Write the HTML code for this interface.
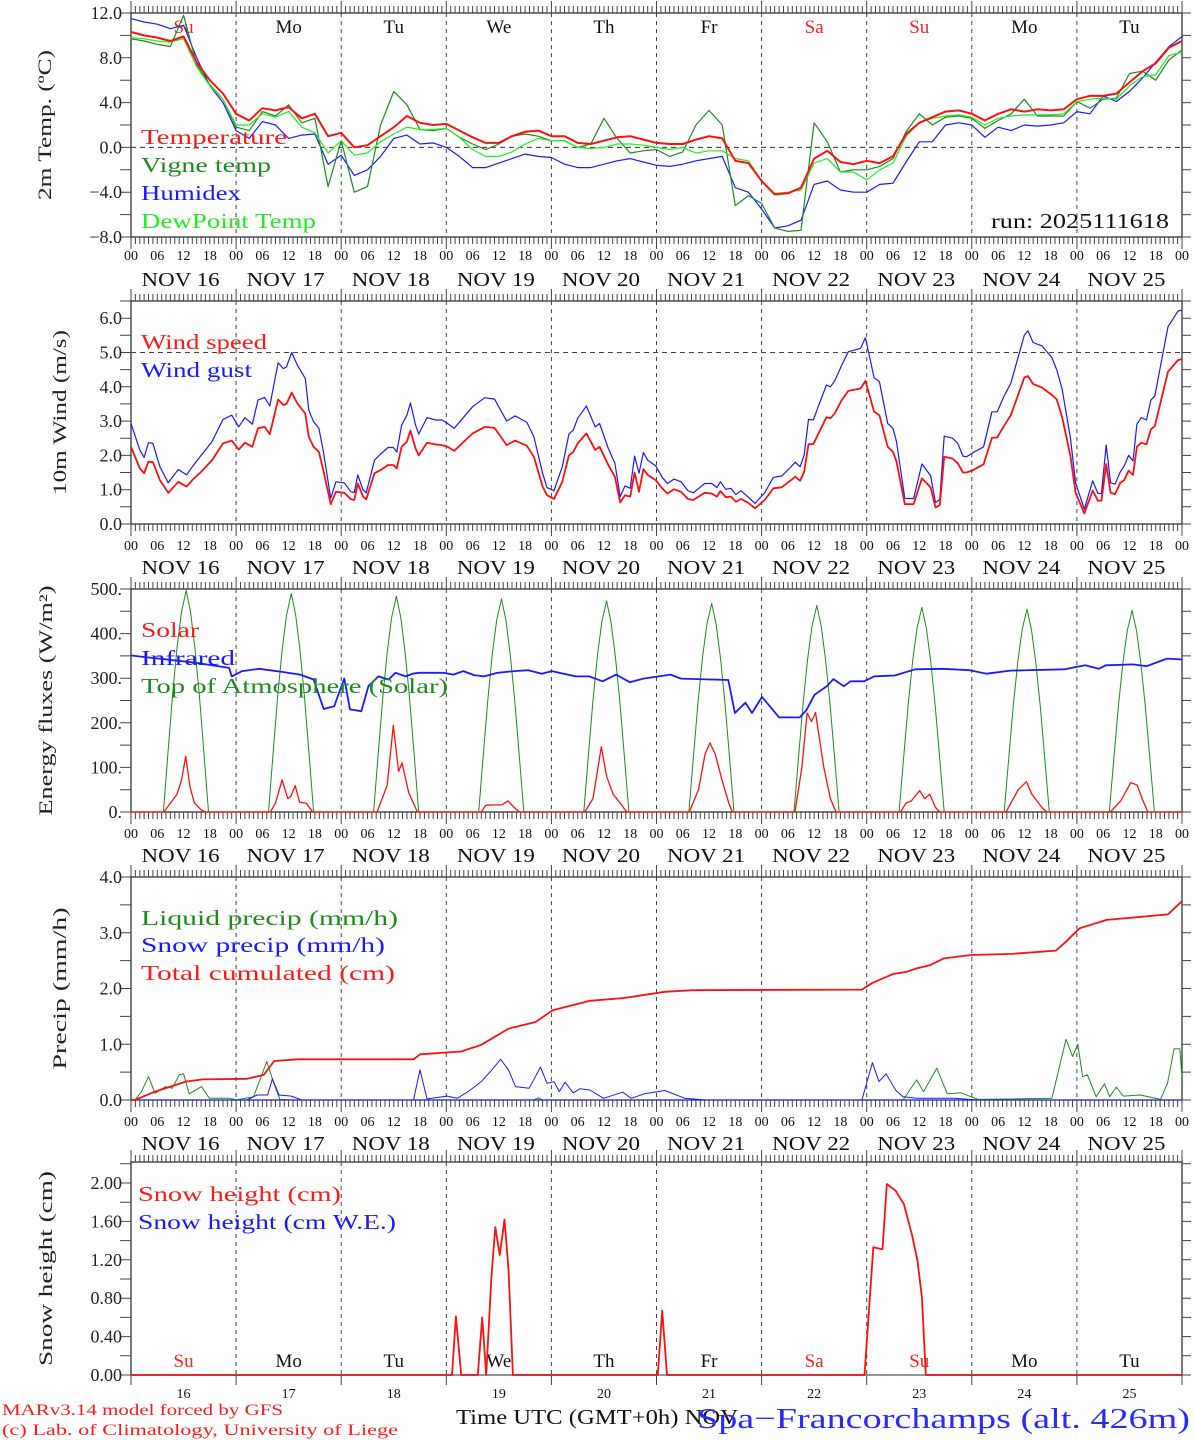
<!DOCTYPE html>
<html><head><meta charset="utf-8"><title>MAR forecast Spa-Francorchamps</title>
<style>
html,body{margin:0;padding:0;background:#fff;}
svg{display:block;font-family:"Liberation Serif",serif;}
</style></head>
<body>
<svg id="chart" width="1194" height="1440" viewBox="0 0 1194 1440" xmlns="http://www.w3.org/2000/svg"></svg>
<script>
// ---------- DATA ----------
const dayNames = ['Su','Mo','Tu','We','Th','Fr','Sa','Su','Mo','Tu'];
const dayColors = ['#ff2020','#111','#111','#111','#111','#111','#ff2020','#ff2020','#111','#111'];
const dayNumbers = ['16','17','18','19','20','21','22','23','24','25'];
const hourLabels = ['00','06','12','18'];

const temperature = [10.3,10.0,9.8,9.5,9.9,7.6,6.0,4.8,3.0, 2.4,3.5,3.3,3.6,2.6,3.0,1.0,1.3, 0.0,0.2,1.0,1.8,2.8,2.2,2.0,2.1, 1.5,0.9,0.4,0.4,1.0,1.4,1.5,1.0, 1.0,0.4,0.3,0.6,0.9,1.0,0.7,0.4, 0.3,0.3,0.7,1.0,0.8,-1.2,-1.4,-3.0, -4.2,-4.1,-3.6,-1.0,-0.3,-1.3,-1.5,-1.2, -1.4,-0.8,1.2,2.2,2.7,3.2,3.3,3.0, 2.4,3.0,3.4,3.2,3.4,3.3,3.4,4.3, 4.6,4.6,4.8,5.8,6.8,7.5,8.9,9.5];
const vigneTemp = [9.7,9.5,9.2,9.0,11.8,7.4,5.6,4.3,1.8, 1.5,3.2,2.8,3.8,2.2,2.6,-3.5,0.6, -4.0,-3.5,2.0,5.0,3.8,1.6,1.5,1.7, 0.9,0.3,-0.2,0.3,1.0,1.2,1.0,0.6, 0.6,0.0,0.3,2.6,0.8,-0.5,-0.3,-0.2, -0.8,-0.4,2.0,3.3,2.0,-5.2,-4.3,-5.0, -7.2,-7.5,-7.4,2.2,0.5,-2.2,-2.0,-2.0, -1.7,-1.0,1.4,3.0,2.0,2.7,2.8,2.6, 1.7,2.4,3.0,4.3,2.8,2.8,2.8,4.1, 3.5,4.3,4.4,6.6,6.8,6.0,7.8,8.7];
const humidex = [11.5,11.2,11.0,10.6,10.9,8.0,5.5,4.0,1.5, 0.8,2.3,2.0,0.8,1.1,1.2,-1.5,-0.7, -2.5,-2.0,-0.8,0.8,1.1,0.3,0.4,0.0, -0.8,-1.8,-1.8,-1.4,-1.0,-0.6,-0.8,-0.9, -1.5,-1.8,-1.8,-1.5,-1.2,-1.0,-1.3,-1.6, -1.7,-1.5,-1.2,-1.0,-0.8,-3.6,-4.0,-5.5, -7.2,-7.0,-6.5,-3.3,-3.0,-3.8,-4.0,-4.0, -3.3,-3.2,-1.3,0.5,0.5,2.0,2.2,2.0, 0.9,1.8,1.5,2.0,1.9,2.0,2.2,3.2, 3.0,4.6,4.1,5.0,6.2,7.6,9.0,9.9];
const dewPoint = [9.8,9.7,9.5,9.4,9.7,7.2,5.5,4.3,2.0, 2.0,3.0,2.7,3.2,1.8,1.3,-0.5,0.6, -0.7,-0.5,0.5,1.2,1.8,1.6,1.6,1.7, 0.9,-0.2,-0.8,-0.8,-0.4,0.3,0.8,0.6, 0.6,0.0,-0.1,0.0,0.3,0.3,0.2,0.0, -0.2,0.0,-0.5,-0.3,-0.3,-1.0,-1.2,-3.0, -4.1,-4.0,-3.8,-1.4,-1.0,-2.2,-2.2,-2.9, -2.0,-1.4,1.0,2.2,2.6,2.8,2.9,2.7, 2.0,2.6,2.8,2.9,2.9,2.9,3.0,4.1, 4.3,4.4,4.3,5.5,6.3,6.5,8.2,8.5];
const tempHours = []; for (let h = 0; h <= 240; h += 3) tempHours.push(h);

const windHours = [0,2,3,4,5,6.6,8.5,10.8,12.7,14,16,18.5,21,23,24.6,26,27.7,29,30.5,31.7,33.6,34.8,35.5,36.7,38,39.8,40.6,41.7,42.9,44,45.6,46.8,48.7,50.2,51,51.8,53,53.7,55.6,57,58.7,59.9,60.7,61.8,63,63.8,65,65.7,67.6,69.6,71,72.3,73.8,78,80.8,83,85.8,87.7,90.4,92,94,95,96.6,98.5,100,101,102,104,106,107,109,110.5,111.7,112.8,114,115,116,117,118,
 119.8,121.3,122.5,124,125.6,127.2,128.4,131,132.6,133.8,134.6,135.8,137,138.1,139.3,140.8,142.5,144.7,146.7,148.6,150.2,151.7,152.8,153.7,154.7,155.8,157.2,158.8,159.7,160.7,162.3,163.8,166.6,167.7,169.7,170.9,172.8,174,174.8,176.7,178.7,180.6,182.6,183.7,184.7,185.7,187.6,188.8,190,190.8,192.3,194.7,196.6,197.8,199.3,200.9,204,204.8,206,208,210.3,211.4,212.6,214.5,215.7,217.7,219.6,220.8,221.6,222.7,223.7,224.7,225.9,226.8,227.8,228.8,229.7,230.7,231.9,232.9,233.8,236.8,239.1,239.9];
const windSpeed = [2.25,1.62,1.48,1.82,1.8,1.28,0.91,1.23,1.09,1.28,1.52,1.86,2.35,2.43,2.17,2.37,2.25,2.79,2.83,2.62,3.63,3.47,3.5,3.83,3.51,3.22,2.54,2.25,2.1,1.52,0.58,0.94,0.91,0.72,0.7,1.18,0.8,0.72,1.48,1.57,1.72,1.72,1.62,2.25,2.4,2.72,2.2,2.0,2.37,2.32,2.3,2.25,2.13,2.64,2.83,2.8,2.3,2.43,2.28,1.96,1.09,0.84,0.73,1.23,2.0,2.1,2.35,2.64,2.16,2.25,1.72,1.38,0.63,0.84,0.8,1.5,0.94,1.6,1.43,
 1.28,1.04,0.89,1.01,0.94,0.73,0.7,0.91,0.89,0.8,0.96,0.78,0.8,0.65,0.73,0.63,0.46,0.7,1.04,1.07,1.23,1.38,1.26,1.52,2.33,2.33,2.69,3.11,3.08,3.22,3.61,3.88,3.95,4.17,3.27,3.17,2.25,2.1,1.82,0.58,0.58,1.33,1.07,0.48,0.55,1.96,1.91,1.77,1.5,1.5,1.57,1.74,2.51,2.52,2.85,3.17,4.27,4.31,4.08,3.98,3.76,3.63,3.13,2.0,0.91,0.31,0.97,0.68,0.68,1.75,0.91,0.87,1.2,1.28,1.55,1.43,2.25,2.37,2.32,2.76,2.85,4.44,4.78,4.8];
const windGust = [2.93,2.16,1.94,2.37,2.35,1.67,1.2,1.59,1.43,1.67,2.0,2.4,3.05,3.17,2.83,3.1,2.91,3.61,3.69,3.44,4.7,4.53,4.58,5.0,4.63,4.24,3.32,2.98,2.79,2.06,0.75,1.23,1.2,0.94,0.92,1.43,0.99,0.91,1.86,2.04,2.23,2.23,2.1,2.88,3.17,3.53,2.88,2.62,3.1,3.03,3.03,2.93,2.79,3.42,3.68,3.64,3.0,3.15,2.96,2.54,1.48,1.06,0.97,1.67,2.62,2.74,3.08,3.44,2.83,2.93,2.2,1.77,0.8,1.11,1.04,1.98,1.48,2.08,1.86,
 1.7,1.36,1.18,1.31,1.23,0.97,0.91,1.18,1.18,1.06,1.23,1.01,1.04,0.86,0.97,0.8,0.6,0.91,1.36,1.4,1.6,1.8,1.67,2.0,3.05,3.03,3.51,4.05,4.0,4.17,4.63,5.02,5.12,5.43,4.26,4.15,2.93,2.79,2.4,0.75,0.74,1.75,1.41,0.62,0.72,2.56,2.5,2.35,1.98,1.96,2.08,2.25,3.27,3.27,3.71,4.1,5.5,5.63,5.29,5.19,4.85,4.49,3.95,2.54,1.2,0.43,1.26,0.89,0.89,2.3,1.2,1.16,1.52,1.69,2.0,1.84,2.91,3.1,3.03,3.61,3.73,5.75,6.21,6.23];

const solarHours = [0,7.5,9,10.5,11.5,12.5,13.5,14.5,16,17, 31.8,33,34.5,35.8,36.5,37.5,38.5,40,41.5, 56.2,58.5,59.9,61.1,61.9,63.4,65.4, 80,81,82.8,84.7,86.1,87.5,88.7, 103.6,105.5,107.4,108.6,110.1,111.7,113.2, 127.5,129.6,131.1,132.2,133.4,135,136.5,137.3, 151.6,153.2,154.4,155.4,156.3,158.2,159.7,161, 175.7,177,178.2,180.1,181.2,182.4,183.7,184.7, 199.8,201.5,202.6,204.5,205.7,208,209.1, 223.6,226,228.3,229.8,230.9,232.2,240];
const solarValues = [0,0,20,40,70,125,55,20,5,0, 0,20,72,30,35,59,22,20,0, 0,60,194,91,110,44,0, 0,15,16,16,25,10,0, 0,30,146,80,40,20,0, 0,50,130,155,130,70,20,0, 0,100,222,203,223,100,30,0, 0,20,25,48,30,40,10,0, 0,30,50,68,40,10,0, 0,25,66,60,30,0,0];
const toaPeaks = [497,490,484,478,473,468,463,459,455,452];
const toaHourOfDay = [7.4,8.5,9.5,10.5,11.5,12.6,13.6,14.6,15.6,16.6,17.7];
const toaFraction = [0,0.28,0.53,0.74,0.9,1,0.9,0.74,0.53,0.28,0];
const irHours = [0,14.6,22.4,23,25.4,29.3,34.7,38.6,41.7,44,46.4,47.5,48.7,50,52.6,54.2,56.5,58.8,60.4,62.7,64.3,65.8,71.3,73.6,75.9,78.3,80.6,83.7,87.6,90.7,93.8,96.1,101.5,104.6,107.7,110.8,113.9,117,123.2,125.6,132.5,136.4,137.9,140.3,141.8,144.1,148,152.7,154.2,156.1,158.9,160.4,162.8,164.3,167.4,169.7,174.4,179.1,185.3,191.5,195.4,200.8,213.2,217.9,221,222.6,228.8,231.9,236.6,240];
const irValues = [351,335,323,304,316,321,314,308,297,231,237,267,299,230,226,282,304,297,312,304,310,312,312,308,316,307,304,312,316,318,310,316,304,304,293,308,291,299,308,299,297,296,222,245,222,258,212,212,228,263,282,298,282,293,293,304,306,320,321,318,310,317,320,329,321,329,331,327,344,342];

const totalHours = [0,0.9,5.5,12.5,16.4,26.5,30.3,32.7,38.1,64.5,66,75.4,80,86.2,92.4,96.3,104.8,112.6,121.9,128.1,166.9,169.3,174,177.1,179.4,182.5,185.6,191.8,201.1,211.2,213.5,216.6,222.8,236.8,239.9];
const totalValues = [0,0,0.15,0.33,0.37,0.38,0.45,0.7,0.73,0.73,0.82,0.87,0.99,1.28,1.40,1.61,1.78,1.83,1.94,1.97,1.98,2.1,2.26,2.3,2.36,2.42,2.54,2.6,2.62,2.68,2.84,3.08,3.23,3.33,3.56];
const liquidHours = [0,0.9,2.4,4,5.5,7.9,9.4,11,12,13.3,16.1,17.9,22.6,24,28,31,32.6,34,36.4,92,93,94,176.3,179.4,181,184,186.4,189.5,193.4,210.3,213.5,215,216.2,217.3,218.4,220.4,222.3,223.5,225,226.6,230.5,235.1,236.7,238.2,239.5,240];
const liquidValues = [0,0,0.15,0.42,0.12,0.24,0.21,0.45,0.47,0.11,0.24,0.03,0.03,0,0.06,0.69,0.3,0.01,0,0,0.04,0,0,0.36,0.15,0.57,0.11,0.13,0.01,0.03,1.09,0.78,1.0,0.42,0.45,0.06,0.29,0.06,0.23,0.07,0.09,0.01,0.3,0.92,0.92,0.42];
const snowHours = [0,26.5,28.8,31.2,32.3,33.8,36.6,39,64.5,66,67.6,72.2,74.5,77,80,82.4,84.4,86.2,87.8,90.9,93.5,95,96.6,97.8,99.1,101,102.5,104.8,107.9,112.3,114.2,117.2,121.9,126.5,131.2,166.9,169.3,170.8,172.4,174.7,176.3,179.4,187.9,193.4,240];
const snowValues = [0,0,0.09,0.09,0.38,0.09,0.07,0,0,0.54,0.02,0.07,0.03,0.15,0.33,0.54,0.73,0.54,0.24,0.21,0.59,0.3,0.33,0.15,0.32,0.13,0.2,0.18,0.03,0.14,0.03,0.11,0.17,0.03,0,0,0.67,0.33,0.47,0.17,0.06,0.03,0.03,0,0];

const heightHours = [0,73.3,74.2,75.4,79.2,80.2,81.1,82.3,83.2,84.2,85.3,86.2,87.2,120.3,121.3,122.4,167.5,169.5,171.6,172.6,174.6,176.5,178.4,179.6,180.6,181.5,240];
const heightValues = [0,0,0.61,0,0,0.6,0,1.02,1.54,1.25,1.62,1.1,0,0,0.67,0,0,1.33,1.31,1.99,1.92,1.78,1.45,1.19,0.81,0,0];
const heightWE = [0,0];
const heightWEHours = [0,240];

// ---------- DRAWING ----------
const NS = 'http://www.w3.org/2000/svg';
const svg = document.getElementById('chart');
const X0 = 131, X1 = 1182;
function xs(h){ return X0 + h * (X1 - X0) / 240; }
function mk(tag, attrs, parent){
  const e = document.createElementNS(NS, tag);
  for (const k in attrs) e.setAttribute(k, attrs[k]);
  (parent || svg).appendChild(e);
  return e;
}
function txt(s, attrs, parent){
  const e = mk('text', attrs, parent);
  e.textContent = s;
  return e;
}

const panels = [
 {key:'temp', top:13, bot:237, min:-8, max:12, step:2, lstep:4, fmt:v=>(v<0?'\u2212'+Math.abs(v).toFixed(1):v.toFixed(1)), title:'2m Temp. (\u00baC)', tx:45, tlen:150, hl:260, dl:286},
 {key:'wind', top:301, bot:524, min:0, max:6.5, step:0.5, lstep:1, lmax:6, fmt:v=>v.toFixed(1), title:'10m Wind (m/s)', tx:60, tlen:165, hl:550, dl:574},
 {key:'flux', top:589, bot:812, min:0, max:500, step:50, lstep:100, fmt:v=>v.toFixed(0)+'.', title:'Energy fluxes (W/m\u00b2)', tx:46, tlen:230, hl:838, dl:862},
 {key:'precip', top:877, bot:1100, min:0, max:4, step:0.5, lstep:1, fmt:v=>v.toFixed(1), title:'Precip (mm/h)', tx:60, tlen:162, hl:1126, dl:1150},
 {key:'snow', top:1162, bot:1375, min:0, max:2.21875, step:0.2, lstep:0.4, lmax:2.0, fmt:v=>v.toFixed(2), title:'Snow height (cm)', tx:46, tlen:195}
];
function ys(p, v){ return p.bot - (v - p.min) * (p.bot - p.top) / (p.max - p.min); }

panels.forEach((p, pi) => {
  const g = mk('g', {});
  
  
  // frame
  const fr = mk('rect', {x:X0, y:p.top, width:X1-X0, height:p.bot-p.top, fill:'none', stroke:'#333', 'stroke-width':1.3}, g);
  
  
  // day dividers
  for (let d = 1; d < 10; d++) {
    const l = mk('line', {x1:xs(d*24), x2:xs(d*24), y1:p.top, y2:p.bot, stroke:'#444', 'stroke-width':1, 'stroke-dasharray':'4,4'}, g);
    
    
  }
  // hourly ticks top & bottom
  let tp = '';
  for (let h = 0; h <= 240; h++) {
    const x = xs(h).toFixed(1);
    const big = h % 24 === 0;
    if (pi < 4) {
      tp += `M${x} ${p.top}v${big?-12:-7}M${x} ${p.bot}v${big?12:7}`;
    } else {
      tp += `M${x} ${p.top}v${big?-12:-7}` + (big ? `M${x} ${p.bot}v10` : '');
    }
  }
  const ticks = mk('path', {d:tp, stroke:'#444', 'stroke-width':1, fill:'none'}, g);
  
  
  // y ticks and labels
  let yp = '';
  for (let v = p.min; v <= p.max + 1e-9; v += p.step) {
    const y = ys(p, v).toFixed(1);
    yp += `M${X0} ${y}h-11M${X1} ${y}h9`;
  }
  const yt = mk('path', {d:yp, stroke:'#444', 'stroke-width':1, fill:'none'}, g);
  
  
  const lmax = p.lmax !== undefined ? p.lmax : p.max;
  for (let v = p.min; v <= lmax + 1e-9; v += p.lstep) {
    const vv = Math.round(v*100)/100;
    const t = txt(p.fmt(vv), {x:122, y:ys(p, vv)+6, 'text-anchor':'end', 'font-size':18, fill:'#222'}, g);
    
    
  }
  // y title
  const cy = (p.top + p.bot) / 2;
  const tt = txt(p.title, {x:0, y:0, transform:`translate(${p.tx + 6},${cy}) rotate(-90)`, 'text-anchor':'middle', 'font-size':19, fill:'#222', textLength:p.tlen, lengthAdjust:'spacingAndGlyphs'}, g);
  
  
  // x labels
  if (pi < 4) {
    for (let d = 0; d <= 10; d++) {
      for (let k = 0; k < 4; k++) {
        if (d === 10 && k > 0) break;
        const h = d*24 + k*6;
        const t = txt(hourLabels[k], {x:xs(h), y:p.hl, 'text-anchor':'middle', 'font-size':14, fill:'#111'}, g);
        
        
      }
      if (d < 10) {
        const t = txt('NOV ' + dayNumbers[d], {x:xs(d*24+12)-3, y:p.dl, 'text-anchor':'middle', 'font-size':20, fill:'#111', textLength:78, lengthAdjust:'spacingAndGlyphs'}, g);
        
        
      }
    }
  } else {
    for (let d = 0; d < 10; d++) {
      const t = txt(dayNumbers[d], {x:xs(d*24+12), y:1398, 'text-anchor':'middle', 'font-size':14, fill:'#111'}, g);
      
      
    }
  }
  p.g = g;
});

function line(p, hours, vals, color, width, name){
  let d = '';
  hours.forEach((h, i) => { d += (i ? 'L' : 'M') + xs(h).toFixed(1) + ' ' + ys(p, vals[i]).toFixed(1); });
  const e = mk('path', {d:d, fill:'none', stroke:color, 'stroke-width':width, 'stroke-linejoin':'round'}, p.g);
  
  
  return e;
}
function hline(p, v, color, dash, name){
  const e = mk('line', {x1:X0, x2:X1, y1:ys(p,v), y2:ys(p,v), stroke:color, 'stroke-width':1, 'stroke-dasharray':dash}, p.g);
  
  
}
function legend(p, s, x, y, color, len, name){
  const t = txt(s, {x:x, y:y, 'font-size':21, fill:color, textLength:len, lengthAdjust:'spacingAndGlyphs'}, p.g);
  
  
}

// Panel 1
const P1 = panels[0];
hline(P1, 0, '#333', '5,4', 'zero-line');
dayNames.forEach((n, d) => {
  const t = txt(n, {x:xs(d*24+12), y:33, 'text-anchor':'middle', 'font-size':19, fill:dayColors[d]}, P1.g);
  
  
});
line(P1, tempHours, humidex, '#1a1aff', 1.2, 'humidex-line');
line(P1, tempHours, vigneTemp, '#1f8a1f', 1.2, 'vigne-temp-line');
line(P1, tempHours, dewPoint, '#22ee22', 1.2, 'dewpoint-line');
line(P1, tempHours, temperature, '#ff1010', 2, 'temperature-line');
legend(P1, 'Temperature', 141, 144, '#ff1a1a', 146, 'legend-temperature');
legend(P1, 'Vigne temp', 141, 172, '#1f8a1f', 130, 'legend-vigne-temp');
legend(P1, 'Humidex', 141, 200, '#1a1aff', 100, 'legend-humidex');
legend(P1, 'DewPoint Temp', 141, 228, '#22ee22', 175, 'legend-dewpoint');
legend(P1, 'run: 2025111618', 991, 228, '#111', 178, 'run-label');

// Panel 2
const P2 = panels[1];
hline(P2, 5, '#444', '5,4', 'wind-5-line');
line(P2, windHours, windGust, '#1a1aff', 1.2, 'wind-gust-line');
line(P2, windHours, windSpeed, '#ff1010', 1.8, 'wind-speed-line');
legend(P2, 'Wind speed', 141, 349, '#ff1a1a', 126, 'legend-wind-speed');
legend(P2, 'Wind gust', 141, 377, '#1a1aff', 111, 'legend-wind-gust');

// Panel 3
const P3 = panels[2];
const toaHours = [], toaValues = [];
toaPeaks.forEach((pk, d) => {
  toaHourOfDay.forEach((hh, k) => { toaHours.push(d*24 + hh); toaValues.push(pk * toaFraction[k]); });
});
toaHours.unshift(0); toaValues.unshift(0);
toaHours.push(240); toaValues.push(0);
line(P3, toaHours, toaValues, '#1f8a1f', 1, 'toa-solar-line');
line(P3, solarHours, solarValues, '#ff1010', 1.3, 'solar-line');
line(P3, irHours, irValues, '#1a1aff', 1.8, 'infrared-line');
legend(P3, 'Solar', 141, 637, '#ff1a1a', 58, 'legend-solar');
legend(P3, 'Infrared', 141, 665, '#1a1aff', 94, 'legend-infrared');
legend(P3, 'Top of Atmosphere (Solar)', 141, 693, '#1f8a1f', 307, 'legend-toa');

// Panel 4
const P4 = panels[3];
line(P4, liquidHours, liquidValues, '#1f8a1f', 1, 'liquid-precip-line');
line(P4, snowHours, snowValues, '#1a1aff', 1, 'snow-precip-line');
hline(P4, 0, '#1a1aff', 'none', 'precip-baseline');
line(P4, totalHours, totalValues, '#ff1010', 1.8, 'total-cumulated-line');
legend(P4, 'Liquid precip (mm/h)', 141, 925, '#1f8a1f', 257, 'legend-liquid-precip');
legend(P4, 'Snow precip (mm/h)', 141, 952, '#1a1aff', 244, 'legend-snow-precip');
legend(P4, 'Total cumulated (cm)', 141, 980, '#ff1a1a', 254, 'legend-total-cumulated');

// Panel 5
const P5 = panels[4];
line(P5, heightWEHours, heightWE, '#888', 1.5, 'snow-height-we-line');
dayNames.forEach((n, d) => {
  const t = txt(n, {x:xs(d*24+12), y:1367, 'text-anchor':'middle', 'font-size':19, fill:dayColors[d]}, P5.g);
  
  
});
line(P5, heightHours, heightValues, '#ff1010', 1.8, 'snow-height-line');
legend(P5, 'Snow height (cm)', 138, 1201, '#ff1a1a', 203, 'legend-snow-height');
legend(P5, 'Snow height (cm W.E.)', 138, 1229, '#1a1aff', 258, 'legend-snow-height-we');

// Footer
let f = txt('MARv3.14 model forced by GFS', {x:2, y:1415, 'font-size':16, fill:'#ff1a1a', textLength:281, lengthAdjust:'spacingAndGlyphs'});


f = txt('(c) Lab. of Climatology, University of Liege', {x:2, y:1435, 'font-size':16, fill:'#ff1a1a', textLength:396, lengthAdjust:'spacingAndGlyphs'});


f = txt('Time UTC (GMT+0h) NOV', {x:456, y:1424, 'font-size':21, fill:'#111', textLength:282, lengthAdjust:'spacingAndGlyphs'});


f = txt('Spa\u2212Francorchamps (alt. 426m)', {x:697, y:1428, 'font-size':29, fill:'#2a2aff', textLength:493, lengthAdjust:'spacingAndGlyphs'});


</script>
</body></html>
